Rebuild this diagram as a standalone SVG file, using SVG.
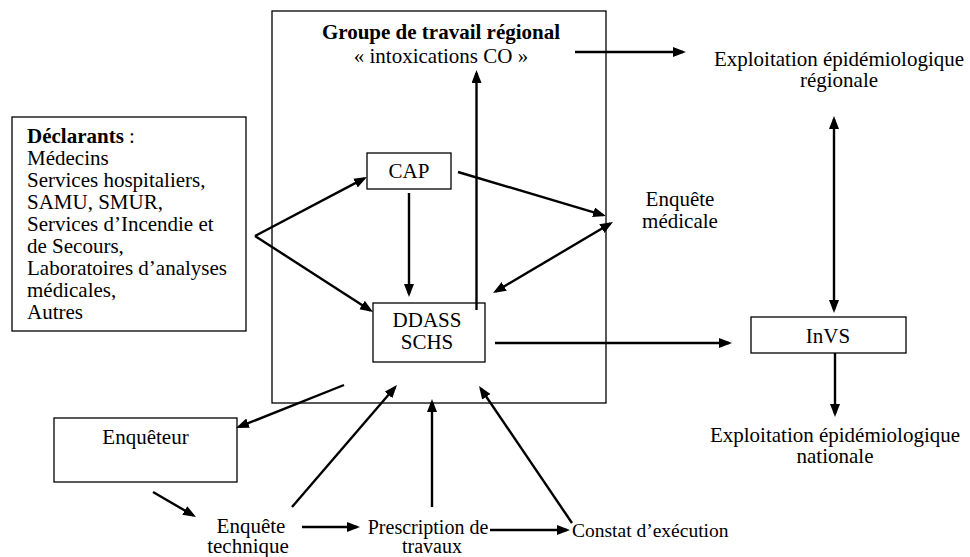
<svg xmlns="http://www.w3.org/2000/svg" width="970" height="557" viewBox="0 0 970 557">
<style>
  text { font-family: "Liberation Serif", "Times New Roman", serif; font-size: 21px; fill: #000; }
  .c { text-anchor: middle; }
  .b { font-weight: bold; }
  .box { fill: #fff; stroke: #000; stroke-width: 1.3; }
  .frame { fill: none; stroke: #000; stroke-width: 1.3; }
  .ar { fill: none; stroke: #000; stroke-width: 2.4; marker-end: url(#ah); }
  .dar { fill: none; stroke: #000; stroke-width: 2.4; marker-end: url(#ah); marker-start: url(#ahs); }
</style>
<defs>
  <marker id="ah" markerUnits="userSpaceOnUse" markerWidth="14" markerHeight="12" refX="10" refY="5" orient="auto">
    <path d="M0,0 L13,5 L0,10 z" fill="#000"/>
  </marker>
  <marker id="ahs" markerUnits="userSpaceOnUse" markerWidth="14" markerHeight="12" refX="10" refY="5" orient="auto-start-reverse">
    <path d="M0,0 L13,5 L0,10 z" fill="#000"/>
  </marker>
</defs>
<rect width="970" height="557" fill="#fff"/>

<g id="groupe-regional">
  <rect class="frame" x="272" y="11" width="334" height="392"/>
  <text class="c" x="441" y="39"><tspan class="b">Groupe de travail régional</tspan><tspan x="441" y="62.5">« intoxications CO »</tspan></text>
</g>

<g id="declarants">
  <rect class="box" x="12" y="117" width="234" height="214"/>
  <text x="27" y="143"><tspan class="b">Déclarants</tspan> :<tspan x="27" y="165">Médecins</tspan><tspan x="27" y="187">Services hospitaliers,</tspan><tspan x="27" y="209">SAMU, SMUR,</tspan><tspan x="27" y="231">Services d’Incendie et</tspan><tspan x="27" y="253">de Secours,</tspan><tspan x="27" y="275">Laboratoires d’analyses</tspan><tspan x="27" y="297">médicales,</tspan><tspan x="27" y="319">Autres</tspan></text>
</g>

<g id="cap">
  <rect class="box" x="367" y="153" width="84" height="36"/>
  <text class="c" x="409" y="177.5">CAP</text>
</g>

<g id="ddass">
  <rect class="box" x="373" y="303" width="112" height="59"/>
  <text class="c" x="427" y="327">DDASS<tspan x="427" y="349">SCHS</tspan></text>
</g>

<g id="enquete-medicale">
  <text class="c" x="680" y="206">Enquête<tspan x="680" y="227.5">médicale</tspan></text>
</g>

<g id="exploitation-regionale">
  <text class="c" x="839" y="66">Exploitation épidémiologique<tspan x="839" y="87">régionale</tspan></text>
</g>

<g id="invs">
  <rect class="box" x="751" y="317" width="155" height="36"/>
  <text class="c" x="828" y="342.5">InVS</text>
</g>

<g id="exploitation-nationale">
  <text class="c" x="835" y="441.5">Exploitation épidémiologique<tspan x="835" y="462.5">nationale</tspan></text>
</g>

<g id="enqueteur">
  <rect class="box" x="54" y="418" width="183" height="64"/>
  <text class="c" x="145.5" y="444">Enquêteur</text>
</g>

<g id="enquete-technique">
  <text class="c" x="251" y="533">Enquête<tspan x="248" y="553">technique</tspan></text>
</g>

<g id="prescription">
  <text class="c" x="428" y="534" style="font-size:20px">Prescription de<tspan x="432" y="553">travaux</tspan></text>
</g>

<g id="constat">
  <text x="572" y="536.5" style="font-size:19.5px">Constat d’exécution</text>
</g>

<g id="connectors">
  <line class="ar" x1="575" y1="52" x2="683" y2="52"/>
  <line class="ar" x1="476.5" y1="310" x2="476.5" y2="73"/>
  <line class="ar" x1="255" y1="236" x2="364.3" y2="178.4"/>
  <line class="ar" x1="255" y1="236" x2="370.5" y2="310.4"/>
  <line class="ar" x1="409" y1="193" x2="409" y2="294"/>
  <line class="ar" x1="458" y1="172" x2="603.1" y2="215.1"/>
  <line class="dar" x1="495.6" y1="291.5" x2="610.4" y2="223.5"/>
  <line class="dar" x1="834" y1="119" x2="834" y2="310"/>
  <line class="ar" x1="495" y1="343" x2="729" y2="343"/>
  <line class="ar" x1="835" y1="353" x2="835" y2="414"/>
  <line class="ar" x1="344" y1="385" x2="238.8" y2="426.9"/>
  <line class="ar" x1="153" y1="492" x2="193.4" y2="515.5"/>
  <line class="ar" x1="292" y1="507" x2="395" y2="387.3"/>
  <line class="ar" x1="302" y1="527" x2="357" y2="527"/>
  <line class="ar" x1="432" y1="507" x2="432" y2="402"/>
  <line class="ar" x1="490" y1="530" x2="567" y2="530"/>
  <line class="ar" x1="572" y1="523" x2="480.7" y2="388.5"/>
</g>
</svg>
